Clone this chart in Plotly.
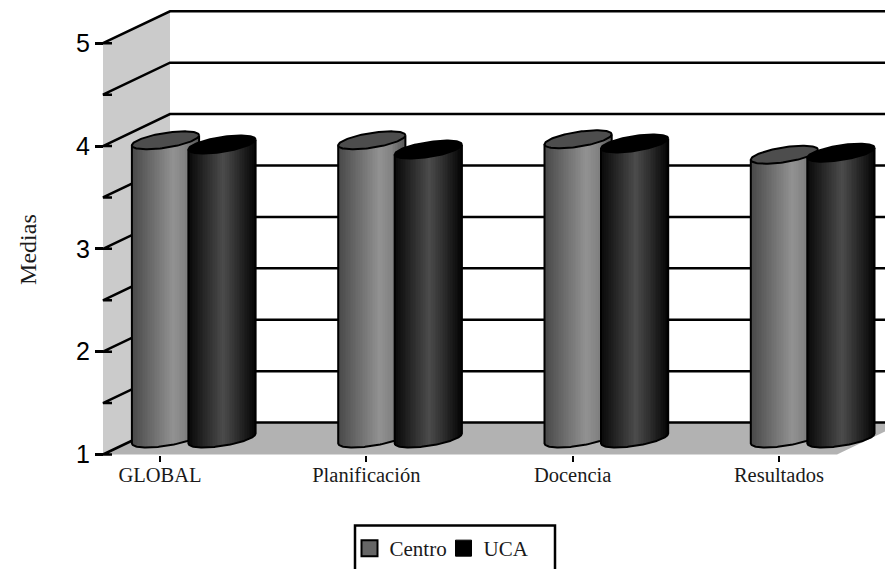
import numpy as np
import plotly.graph_objects as go

categories = ["GLOBAL", "Planificación", "Docencia", "Resultados"]
centro = [3.90, 3.90, 3.91, 3.76]
uca = [3.86, 3.81, 3.87, 3.78]
y_ticks = [1, 2, 3, 4, 5]

W, H = 885, 569
PX_X = 206.3          # pixels per category
PX_Y = 103.0          # pixels per value unit
X0_PX, Y1_PX = 160.0, 455.3
Y_DOMAIN_BOTTOM_PX = 500
xr = [(0 - X0_PX) / PX_X, (W - X0_PX) / PX_X]
yr = [1 - (Y_DOMAIN_BOTTOM_PX - Y1_PX) / PX_Y, 1 + Y1_PX / PX_Y]

dx = 67 / PX_X        # depth of the box
dy = 32 / PX_Y
x_wall = (103 - X0_PX) / PX_X
x_floor_end = (837 - X0_PX) / PX_X
a = 33.6 / PX_X       # cylinder half-width
b = 7.5 / PX_Y        # ellipse minor part
s = 5.0 / PX_Y        # ellipse tilt
off = {"c": 5.5 / PX_X, "u": 62.0 / PX_X}
N = 40
LW = 2.5

fig = go.Figure()

# walls and floor
fig.add_trace(go.Scatter(
    x=[x_wall, x_wall + dx, x_wall + dx, x_wall], y=[5, 5 + dy, 1 + dy, 1],
    fill="toself", fillcolor="#cbcbcb", mode="none", showlegend=False, zorder=0, hoverinfo="skip"))
fig.add_trace(go.Scatter(
    x=[x_wall, x_wall + dx, x_floor_end + dx, x_floor_end], y=[1, 1 + dy, 1 + dy, 1],
    fill="toself", fillcolor="#b2b2b2", mode="none", showlegend=False, zorder=0, hoverinfo="skip"))

# grid lines
gx, gy = [], []
for v in np.arange(1, 5.01, 0.5):
    gx += [x_wall + 9 / PX_X, x_wall, x_wall + dx, xr[1], None]
    gy += [v, v, v + dy, v + dy, None]
fig.add_trace(go.Scatter(x=gx, y=gy, mode="lines", line=dict(color="black", width=LW),
                         showlegend=False, zorder=1, hoverinfo="skip"))


def shade(t, stops):
    return np.interp(t, [p[0] for p in stops], [p[1] for p in stops])


styles = {
    "c": dict(values=centro, stops=[(0, 72), (0.62, 146), (0.8, 130), (1, 85)], cap="#4d4d4d", z=2),
    "u": dict(values=uca, stops=[(0, 8), (0.52, 76), (0.7, 50), (1, 4)], cap="#000000", z=4),
}

for key, st in styles.items():
    xs, bases, heights, colors = [], [], [], []
    ox, oy, cx, cy = [], [], [], []
    for i, val in enumerate(st["values"]):
        c = i + off[key]
        edges = np.linspace(-1, 1, N + 1)
        mids = (edges[1:] + edges[:-1]) / 2
        low = 1 + dy / 2 - b * np.sqrt(1 - mids ** 2) + s * mids
        top = val + dy / 2 + s * mids
        xs += list(c + a * mids)
        bases += list(low)
        heights += list(top - low)
        for m in mids:
            g = int(shade((m + 1) / 2, st["stops"]))
            colors.append(f"rgb({g},{g},{g})")
        u = np.linspace(-1, 1, 81)
        lower = 1 + dy / 2 - b * np.sqrt(1 - u ** 2) + s * u
        ox += [c - a] + list(c + a * u) + [c + a, None]
        oy += [val + dy / 2 - s] + list(lower) + [val + dy / 2 + s, None]
        t = np.linspace(0, 2 * np.pi, 121)
        cx += list(c + a * np.cos(t)) + [None]
        cy += list(val + dy / 2 + b * np.sin(t) + s * np.cos(t)) + [None]
    fig.add_trace(go.Bar(x=xs, y=heights, base=bases, width=2 * a / N * 1.25,
                         marker=dict(color=colors, line=dict(width=0)),
                         showlegend=False, zorder=st["z"], hoverinfo="skip"))
    fig.add_trace(go.Scatter(x=ox, y=oy, mode="lines", line=dict(color="black", width=2),
                             showlegend=False, zorder=st["z"], hoverinfo="skip"))
    fig.add_trace(go.Scatter(x=cx, y=cy, mode="lines", fill="toself", fillcolor=st["cap"],
                             line=dict(color="black", width=2),
                             showlegend=False, zorder=st["z"], hoverinfo="skip"))

# legend entries
fig.add_trace(go.Scatter(x=[None], y=[None], mode="markers", name="Centro",
                         marker=dict(symbol="square", size=20, color="#666666",
                                     line=dict(color="black", width=2))))
fig.add_trace(go.Scatter(x=[None], y=[None], mode="markers", name="UCA",
                         marker=dict(symbol="square", size=21, color="black",
                                     line=dict(color="black", width=1))))

fig.update_layout(
    width=W, height=H, autosize=False,
    margin=dict(l=0, r=0, t=0, b=0),
    paper_bgcolor="white", plot_bgcolor="white",
    barmode="overlay", bargap=0,
    font=dict(family="Liberation Serif", color="#1a1a1a", size=20),
    xaxis=dict(range=xr, domain=[0, 1], tickmode="array", tickvals=[0, 1, 2, 3], ticktext=categories,
               showgrid=False, zeroline=False, showline=False,
               anchor="free", position=(H - 456) / H,
               ticks="outside", ticklen=6, tickwidth=2, tickcolor="black", ticklabelstandoff=-5,
               tickfont=dict(family="Liberation Serif", size=20.5, color="#1a1a1a")),
    yaxis=dict(range=yr, domain=[(H - Y_DOMAIN_BOTTOM_PX) / H, 1], tickmode="array", tickvals=y_ticks,
               showgrid=False, zeroline=False, showline=False,
               anchor="free", position=103 / W,
               ticks="outside", ticklen=8, tickwidth=LW, tickcolor="black",
               tickfont=dict(family="Liberation Sans", size=25, color="black"),
               title=dict(text="Medias", standoff=31,
                          font=dict(family="Liberation Serif", size=24, color="#1a1a1a"))),
    legend=dict(orientation="h", x=349.5 / W, xanchor="left", y=(H - 529) / H, yanchor="top",
                borderwidth=0, bgcolor="rgba(0,0,0,0)", entrywidthmode="pixels", entrywidth=49,
                font=dict(family="Liberation Serif", size=21, color="#1a1a1a"),
                itemsizing="trace", itemclick=False, itemdoubleclick=False),
    shapes=[dict(type="rect", xref="paper", yref="paper", layer="below",
                 x0=355 / W, x1=555 / W, y0=-20 / H, y1=(H - 526.5) / H,
                 line=dict(color="black", width=2.5), fillcolor="white")],
)

fig.write_html("out.html", post_script="document.body.style.margin='0';",
               config={"displayModeBar": False})
